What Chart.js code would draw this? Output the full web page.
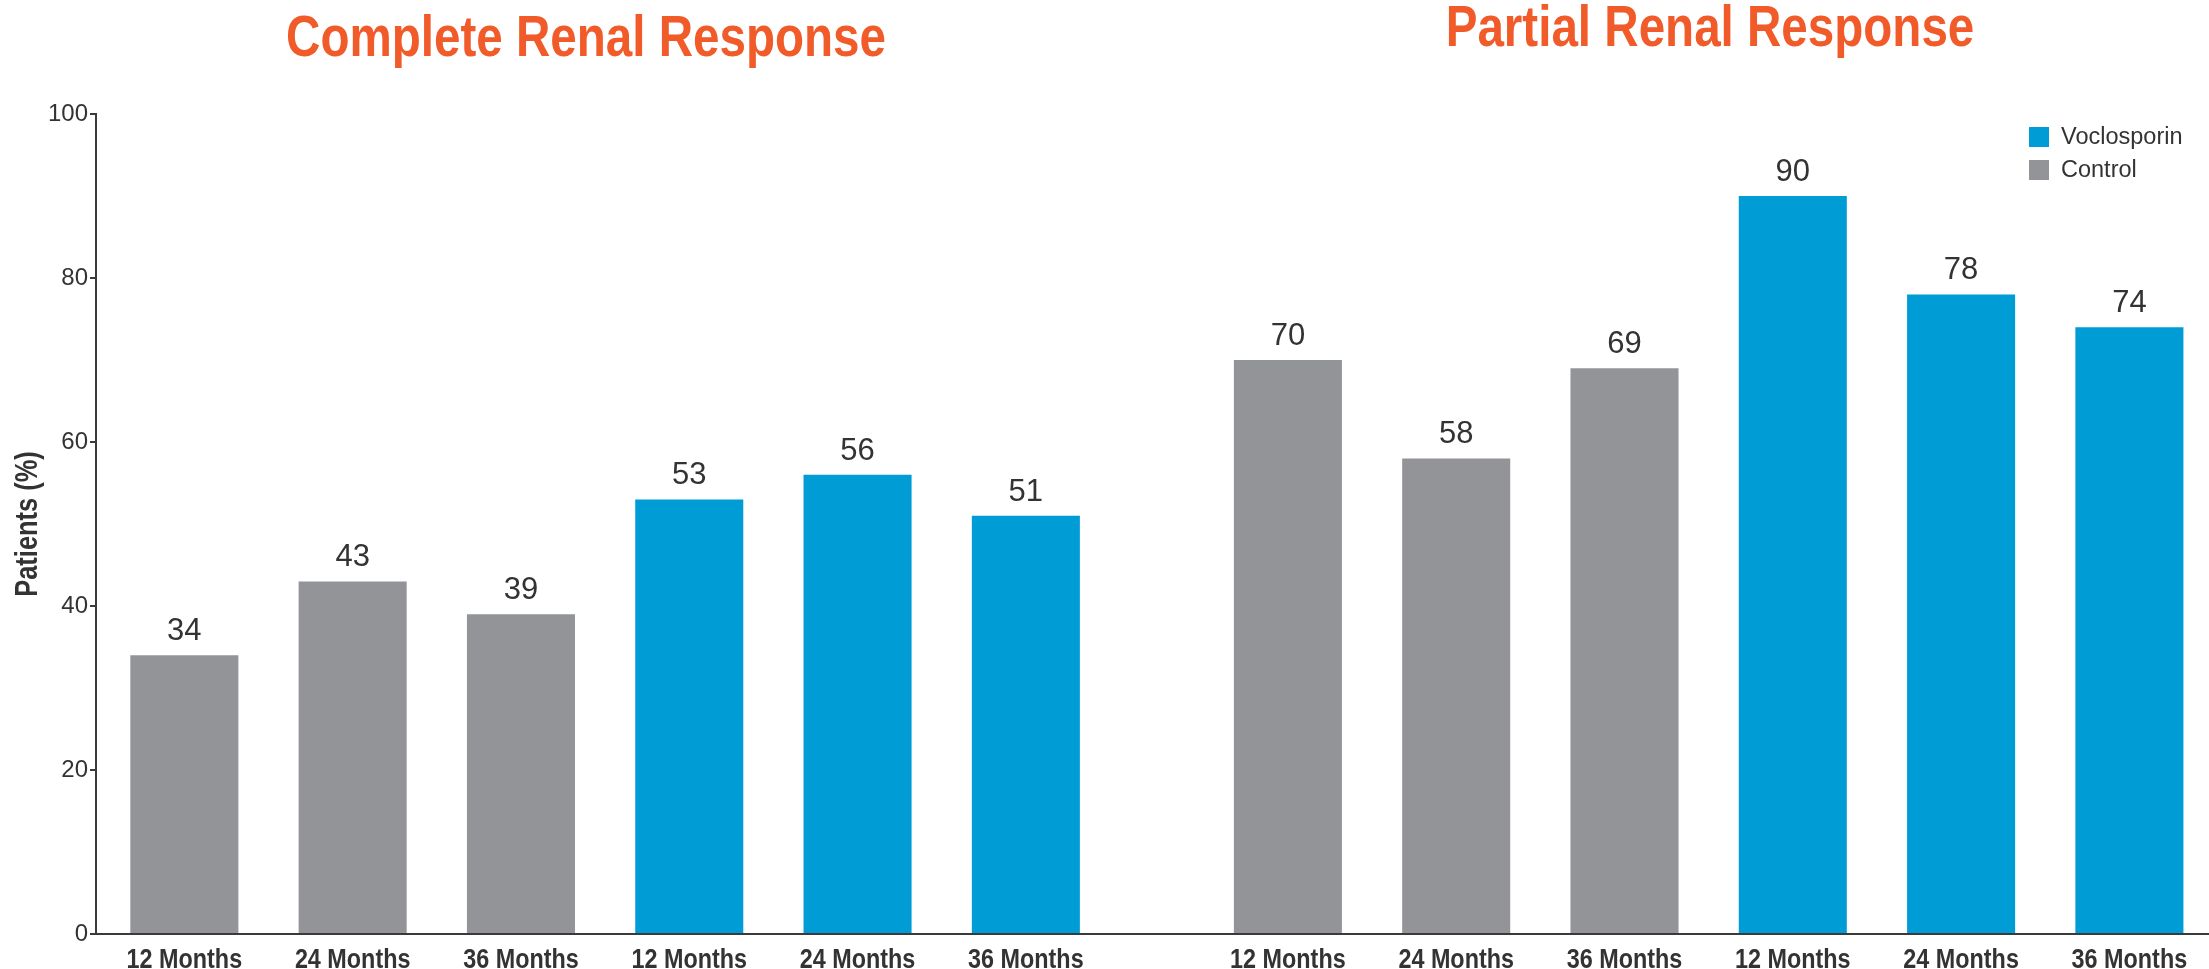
<!DOCTYPE html>
<html>
<head>
<meta charset="utf-8">
<title>Renal Response</title>
<script src="https://cdn.jsdelivr.net/npm/chart.js@4.4.1/dist/chart.umd.min.js"></script>
<style>
  html, body { margin: 0; padding: 0; background: #fff; }
  #wrap { width: 2209px; height: 969px; position: relative; }
</style>
</head>
<body>
<div id="wrap"><canvas id="grafico" width="2209" height="969"></canvas></div>
<script>
// Dados do gráfico
const periods = ['12 Months', '24 Months', '36 Months'];
const panelTitles = ['Complete Renal Response', 'Partial Renal Response'];
const controlComplete = [34, 43, 39];
const voclosporinComplete = [53, 56, 51];
const controlPartial = [70, 58, 69];
const voclosporinPartial = [90, 78, 74];
const yTicks = [0, 20, 40, 60, 80, 100];

const BLUE = '#009cd6';
const GRAY = '#929497';
const ORANGE = '#f15a29';
const TEXT = '#333333';
const AXIS = '#3a3a3a';
const SANS = '"Liberation Sans", Arial, sans-serif';
const NARROW_SCALE = 0.82; // fonte condensada simulada

// cada painel tem 6 posições (controle e depois voclosporin), com um espaço extra entre os painéis
const GROUP_GAP = 0.557;
function slot(panel, i) {
    return panel * (6 + GROUP_GAP) + i;
}

const controlSeries = [controlComplete, controlPartial];
const voclosporinSeries = [voclosporinComplete, voclosporinPartial];

const controlPoints = [];
const voclosporinPoints = [];
const xTicks = [];
controlSeries.forEach((values, p) => {
    values.forEach((v, i) => {
        controlPoints.push({ x: slot(p, i), y: v });
        xTicks.push({ value: slot(p, i), label: periods[i] });
    });
});
voclosporinSeries.forEach((values, p) => {
    values.forEach((v, i) => {
        voclosporinPoints.push({ x: slot(p, i + 3), y: v });
        xTicks.push({ value: slot(p, i + 3), label: periods[i] });
    });
});
xTicks.sort((a, b) => a.value - b.value);

// Texto negrito comprimido na horizontal
function narrowText(ctx, text, x, y, size, angle) {
    ctx.save();
    ctx.translate(x, y);
    if (angle) ctx.rotate(angle);
    ctx.scale(NARROW_SCALE, 1);
    ctx.font = 'bold ' + size + 'px ' + SANS;
    ctx.textAlign = 'center';
    ctx.textBaseline = 'alphabetic';
    ctx.fillText(text, 0, 0);
    ctx.restore();
}

// Valor em cima de cada barra
const valueLabels = {
    id: 'valueLabels',
    afterDatasetsDraw(chart) {
        const ctx = chart.ctx;
        ctx.save();
        ctx.font = '31px ' + SANS;
        ctx.fillStyle = TEXT;
        ctx.textAlign = 'center';
        ctx.textBaseline = 'alphabetic';
        chart.data.datasets.forEach((ds, d) => {
            chart.getDatasetMeta(d).data.forEach((bar, i) => {
                ctx.fillText(ds.data[i].y, bar.x, bar.y - 15);
            });
        });
        ctx.restore();
    }
};

// Rótulos do eixo x, título do eixo y e títulos dos painéis
const narrowLabels = {
    id: 'narrowLabels',
    afterDraw(chart) {
        const ctx = chart.ctx;
        const xScale = chart.scales.x;
        const area = chart.chartArea;
        ctx.save();
        ctx.fillStyle = TEXT;
        xTicks.forEach(t => {
            narrowText(ctx, t.label, xScale.getPixelForValue(t.value), 968, 28.5);
        });
        narrowText(ctx, 'Patients (%)', 37, (area.top + area.bottom) / 2, 31, -Math.PI / 2);

        ctx.fillStyle = ORANGE;
        narrowText(ctx, panelTitles[0], 586, 56, 58);
        narrowText(ctx, panelTitles[1], 1710, 46, 58);
        ctx.restore();
    }
};

// Legenda no canto superior direito
const sideLegend = {
    id: 'sideLegend',
    afterDraw(chart) {
        const ctx = chart.ctx;
        ctx.save();
        ctx.font = '23.5px ' + SANS;
        ctx.textBaseline = 'middle';
        ctx.textAlign = 'left';
        chart.data.datasets.forEach((ds, i) => {
            const y = 127 + i * 33;
            ctx.fillStyle = ds.backgroundColor;
            ctx.fillRect(2029, y, 20, 20);
            ctx.fillStyle = TEXT;
            ctx.fillText(ds.label, 2061, y + 11);
        });
        ctx.restore();
    }
};

new Chart(document.getElementById('grafico'), {
    type: 'bar',
    data: {
        datasets: [
            { label: 'Voclosporin', data: voclosporinPoints, backgroundColor: BLUE },
            { label: 'Control', data: controlPoints, backgroundColor: GRAY }
        ]
    },
    options: {
        responsive: false,
        animation: false,
        layout: { padding: { top: 114, right: 0, bottom: 35, left: 0 } },
        datasets: {
            bar: { grouped: false, barPercentage: 0.642, categoryPercentage: 1 }
        },
        plugins: {
            legend: { display: false },
            tooltip: { enabled: false }
        },
        scales: {
            x: {
                type: 'linear',
                min: -0.525,
                max: 12.03,
                offset: false,
                grid: { display: false, drawTicks: false, offset: false },
                border: { display: true, color: AXIS, width: 2 },
                afterBuildTicks(scale) {
                    scale.ticks = xTicks.map(t => ({ value: t.value }));
                },
                ticks: { display: false }
            },
            y: {
                min: 0,
                max: 100,
                afterBuildTicks(scale) {
                    scale.ticks = yTicks.map(v => ({ value: v }));
                },
                afterFit(scale) {
                    scale.width = 96;
                },
                grid: { drawOnChartArea: false, drawTicks: true, tickLength: 6, color: AXIS, lineWidth: 2 },
                border: { color: AXIS, width: 2 },
                ticks: { font: { family: SANS, size: 24 }, color: TEXT, padding: 2 }
            }
        }
    },
    plugins: [valueLabels, narrowLabels, sideLegend]
});
</script>
</body>
</html>
